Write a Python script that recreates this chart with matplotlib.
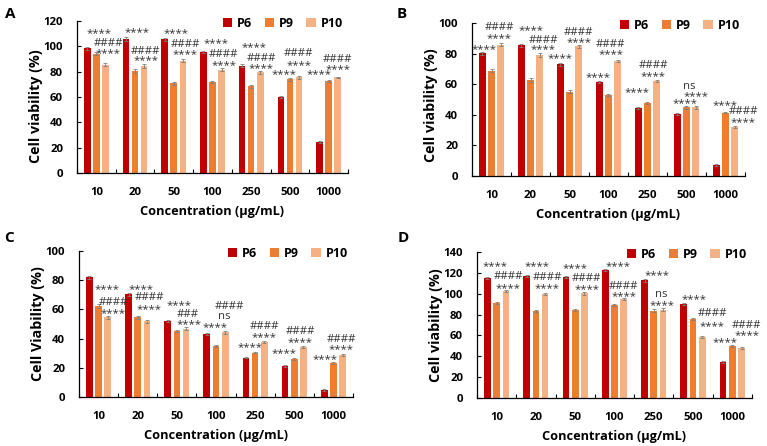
import matplotlib
matplotlib.use("Agg")
import matplotlib.pyplot as plt
import numpy as np

plt.rcParams['font.family'] = ['Open Sans', 'DejaVu Sans']

categories = ['10', '20', '50', '100', '250', '500', '1000']
series_names = ['P6', 'P9', 'P10']
colors = ['#C00000', '#ED7D31', '#F4B183']

# Panel A
A_P6 = [98.5, 106.0, 105.5, 95.5, 84.5, 60.0, 24.5]
A_P9 = [94.0, 80.5, 71.0, 72.0, 68.5, 74.0, 72.5]
A_P10 = [85.5, 84.5, 88.5, 81.5, 79.5, 75.5, 75.5]
A_err = [1.2, 1.5, 1.2, 1.0, 1.2, 1.0, 0.6]
# Panel B
B_P6 = [80.3, 85.4, 73.1, 61.4, 44.3, 40.6, 7.2]
B_P9 = [68.8, 62.9, 55.0, 53.0, 47.6, 44.8, 41.5]
B_P10 = [85.8, 79.3, 84.7, 74.9, 62.2, 44.8, 31.9]
B_err = [1.0, 1.2, 1.0, 0.7, 0.7, 0.7, 0.6]
# Panel C
C_P6 = [81.9, 70.5, 52.2, 43.0, 27.0, 21.3, 4.8]
C_P9 = [62.5, 54.5, 45.1, 34.8, 30.4, 25.9, 23.3]
C_P10 = [54.5, 51.9, 46.9, 44.2, 37.8, 34.3, 28.6]
C_err = [1.2, 1.0, 0.8, 0.8, 0.6, 0.8, 0.6]
# Panel D
D_P6 = [115.0, 116.7, 116.0, 122.4, 113.0, 90.4, 34.5]
D_P9 = [91.0, 83.7, 84.4, 89.5, 83.7, 76.0, 49.9]
D_P10 = [102.9, 100.0, 100.4, 95.2, 84.7, 58.8, 47.9]
D_err = [1.0, 1.0, 1.2, 1.0, 1.5, 0.8, 1.0]

# significance labels: (category index, offset, height, text)
A_ann = [(0, 0.06, 111, '****'), (0, 0.31, 102.4, '####'), (0, 0.31, 95.8, '****'),
         (1, 0.04, 112.3, '****'), (1, 0.27, 95.8, '####'), (1, 0.27, 89.8, '****'),
         (2, 0.06, 111, '****'), (2, 0.31, 101.6, '####'), (2, 0.30, 94.5, '****'),
         (3, 0.09, 103, '****'), (3, 0.29, 93.2, '####'), (3, 0.29, 85.8, '****'),
         (4, 0.08, 100.5, '****'), (4, 0.26, 90.5, '####'), (4, 0.26, 83.2, '****'),
         (5, -0.15, 78.7, '****'), (5, 0.23, 94.0, '####'), (5, 0.23, 85.8, '****'),
         (6, -0.24, 78.7, '****'), (6, 0.23, 89.8, '####'), (6, 0.23, 82.7, '****')]
B_ann = [(0, -0.18, 83.6, '****'), (0, 0.20, 97, '####'), (0, 0.20, 91, '****'),
         (1, 0.02, 96, '****'), (1, 0.32, 88.6, '####'), (1, 0.32, 83.6, '****'),
         (2, -0.24, 78, '****'), (2, 0.24, 94, '####'), (2, 0.24, 88.4, '****'),
         (3, -0.28, 65.5, '****'), (3, 0.06, 85.8, '####'), (3, 0.06, 80.3, '****'),
         (4, -0.26, 55.7, '****'), (4, 0.14, 72.3, '####'), (4, 0.14, 66, '****'),
         (5, -0.04, 48, '****'), (5, 0.08, 58.5, 'ns'), (5, 0.25, 53, '****'),
         (6, 0.0, 47, '****'), (6, 0.45, 42, '####'), (6, 0.45, 36, '****')]
C_ann = [(0, 0.21, 74.4, '****'), (0, 0.38, 64.5, '####'), (0, 0.38, 57.9, '****'),
         (1, 0.08, 74.8, '****'), (1, 0.30, 68, '####'), (1, 0.30, 61.1, '****'),
         (2, 0.05, 63.6, '****'), (2, 0.27, 56.8, '###'), (2, 0.30, 50.8, '****'),
         (3, -0.02, 48.5, '****'), (3, 0.35, 62.2, '####'), (3, 0.20, 55.4, 'ns'),
         (4, -0.12, 35, '****'), (4, 0.23, 48, '####'), (4, 0.23, 41.9, '****'),
         (5, -0.26, 30.4, '****'), (5, 0.15, 45.1, '####'), (5, 0.15, 38.4, '****'),
         (6, -0.21, 26.8, '****'), (6, 0.20, 39.6, '####'), (6, 0.20, 33.2, '****')]
D_ann = [(0, -0.04, 127.2, '****'), (0, 0.30, 116.7, '####'), (0, 0.30, 106.7, '****'),
         (1, 0.04, 127.2, '****'), (1, 0.29, 115.7, '####'), (1, 0.29, 106.1, '****'),
         (2, -0.01, 125.3, '****'), (2, 0.29, 115, '####'), (2, 0.29, 105.5, '****'),
         (3, 0.08, 127.2, '****'), (3, 0.23, 107, '####'), (3, 0.23, 99, '****'),
         (4, 0.07, 118.9, '****'), (4, 0.20, 99.7, 'ns'), (4, 0.22, 90, '****'),
         (5, 0.03, 95.9, '****'), (5, 0.49, 81.5, '####'), (5, 0.49, 70.3, '****'),
         (6, -0.18, 54.3, '****'), (6, 0.37, 69.7, '####'), (6, 0.37, 61.4, '****')]

panels = [
    ('A', [A_P6, A_P9, A_P10], A_err, A_ann, 120, 20, 'Cell viability (%)', [0.1004, 0.612, 0.3533, 0.341], 0.44),
    ('B', [B_P6, B_P9, B_P10], B_err, B_ann, 100, 20, 'Cell viability (%)', [0.6154, 0.6054, 0.3559, 0.343], 0.46),
    ('C', [C_P6, C_P9, C_P10], C_err, C_ann, 100, 20, 'Cell Viability (%)', [0.103, 0.1099, 0.3572, 0.3273], 0.5),
    ('D', [D_P6, D_P9, D_P10], D_err, D_ann, 140, 20, 'Cell viability (%)', [0.6219, 0.1076, 0.3585, 0.3274], 0.5),
]
letter_pos = {'A': (0.006, 0.985), 'B': (0.517, 0.985), 'C': (0.006, 0.483), 'D': (0.518, 0.483)}

fig = plt.figure(figsize=(7.67, 4.46), dpi=100)
x = np.arange(len(categories))
pitch = 0.235
width = 0.17
for letter, vals, err, ann, ymax, ystep, ylabel, rect, ylab_y in panels:
    ax = fig.add_axes(rect)
    for i, (v, c, name) in enumerate(zip(vals, colors, series_names)):
        ax.bar(x + (i - 1) * pitch, v, width, color=c, label=name,
               yerr=err, error_kw=dict(ecolor='#7f7f7f', elinewidth=0.6, capsize=1.6, capthick=0.6))
    for g, dx, yv, t in ann:
        if t.startswith('*'):
            ax.text(g + dx, yv, t, ha='center', va='center_baseline', fontsize=8.2, color='#333333',
                    family='Open Sans')
        else:
            ax.text(g + dx, yv, t, ha='center', va='center', fontsize=8.2, color='#333333',
                    family='Open Sans')
    ax.set_xlim(-0.5, len(categories) - 0.5)
    ax.set_ylim(0, ymax)
    ax.set_yticks(np.arange(0, ymax + 1, ystep))
    ax.set_xticks(x)
    ax.set_xticklabels(categories)
    ax.set_xticks(np.arange(-0.5, len(categories), 1.0), minor=True)
    ax.tick_params(axis='x', which='major', length=0, pad=10, labelsize=8.2)
    ax.tick_params(axis='x', which='minor', length=3, direction='in', width=0.8)
    ax.tick_params(axis='y', length=3, direction='in', width=0.8, labelsize=8.2, pad=10)
    for lab in ax.get_xticklabels() + ax.get_yticklabels():
        lab.set_fontweight('bold')
    for s in ['top', 'right']:
        ax.spines[s].set_visible(False)
    for s in ['left', 'bottom']:
        ax.spines[s].set_linewidth(0.9)
    ax.set_ylabel(ylabel, fontsize=10.3, fontweight='bold')
    ax.yaxis.set_label_coords(-0.125, ylab_y)
    ax.set_xlabel('Concentration (µg/mL)', fontsize=9.2, fontweight='bold', labelpad=5)
    leg = ax.legend(loc='upper right', bbox_to_anchor=(1.0, 1.06), ncol=3, frameon=False,
                    handlelength=0.75, handleheight=0.75, handletextpad=0.4, columnspacing=1.0,
                    prop=dict(size=9, weight='bold'), borderaxespad=0)
    fig.text(letter_pos[letter][0], letter_pos[letter][1], letter, fontsize=11,
             fontweight='bold', ha='left', va='top')

fig.savefig('out.png', dpi=100)
